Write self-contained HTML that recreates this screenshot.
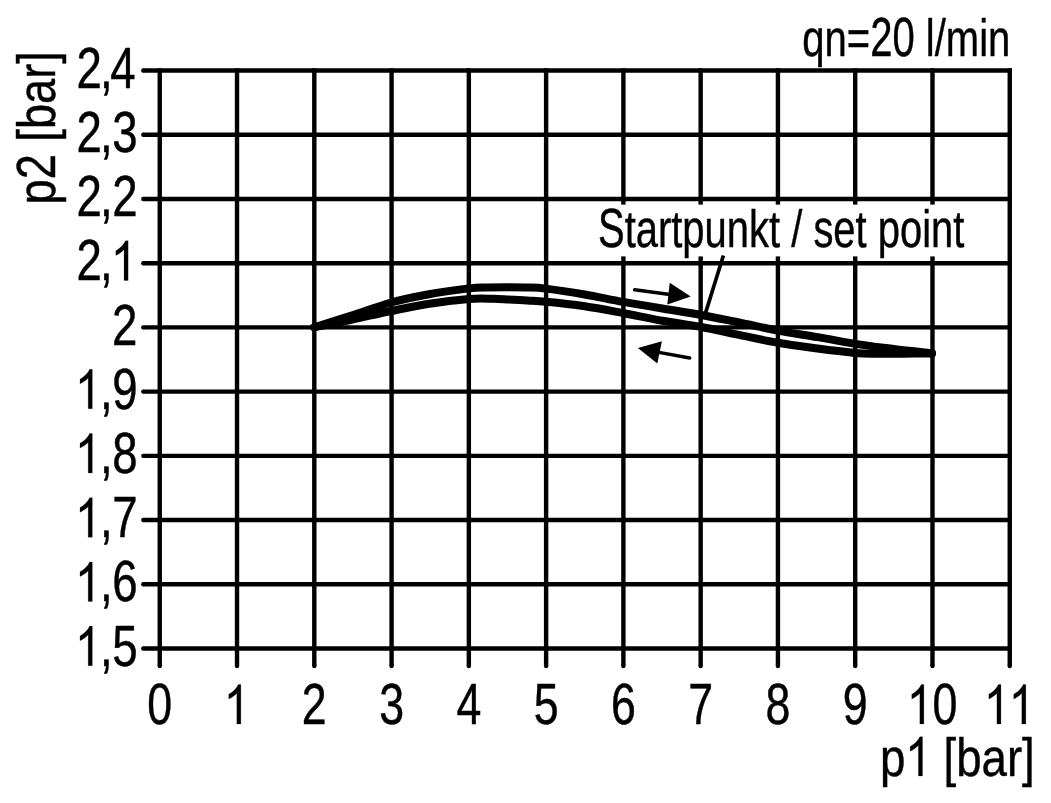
<!DOCTYPE html>
<html>
<head>
<meta charset="utf-8">
<title>p2 / p1 chart</title>
<style>
html,body{margin:0;padding:0;background:#fff;}
body{width:1051px;height:803px;overflow:hidden;}
svg{display:block;will-change:transform;}
text{font-family:"Liberation Sans",sans-serif;fill:#000;stroke:#000;stroke-width:0.45px;stroke-linejoin:round;}
path.one{fill:#000;stroke:#000;stroke-width:8;stroke-linejoin:round;}
</style>
</head>
<body>
<svg width="1051" height="803" viewBox="0 0 1051 803">
<rect x="0" y="0" width="1051" height="803" fill="#ffffff"/>

<g stroke="#000" stroke-width="4.4" fill="none" stroke-linecap="butt">
<line x1="159.75" y1="68.37" x2="159.75" y2="666.00"/>
<line x1="237.02" y1="68.37" x2="237.02" y2="666.00"/>
<line x1="314.30" y1="68.37" x2="314.30" y2="666.00"/>
<line x1="391.57" y1="68.37" x2="391.57" y2="666.00"/>
<line x1="468.84" y1="68.37" x2="468.84" y2="666.00"/>
<line x1="546.12" y1="68.37" x2="546.12" y2="666.00"/>
<line x1="623.39" y1="68.37" x2="623.39" y2="666.00"/>
<line x1="700.66" y1="68.37" x2="700.66" y2="666.00"/>
<line x1="777.93" y1="68.37" x2="777.93" y2="666.00"/>
<line x1="855.21" y1="68.37" x2="855.21" y2="666.00"/>
<line x1="932.48" y1="68.37" x2="932.48" y2="666.00"/>
<line x1="1009.75" y1="68.37" x2="1009.75" y2="666.00"/>
<line x1="143.30" y1="70.57" x2="1011.95" y2="70.57"/>
<line x1="143.30" y1="134.78" x2="1011.95" y2="134.78"/>
<line x1="143.30" y1="198.99" x2="1011.95" y2="198.99"/>
<line x1="143.30" y1="263.20" x2="1011.95" y2="263.20"/>
<line x1="143.30" y1="327.41" x2="1011.95" y2="327.41"/>
<line x1="143.30" y1="391.62" x2="1011.95" y2="391.62"/>
<line x1="143.30" y1="455.83" x2="1011.95" y2="455.83"/>
<line x1="143.30" y1="520.04" x2="1011.95" y2="520.04"/>
<line x1="143.30" y1="584.25" x2="1011.95" y2="584.25"/>
<line x1="143.30" y1="648.46" x2="1011.95" y2="648.46"/>
</g>
<g fill="#000">
<circle cx="159.75" cy="666.0" r="2.2"/>
<circle cx="237.02" cy="666.0" r="2.2"/>
<circle cx="314.30" cy="666.0" r="2.2"/>
<circle cx="391.57" cy="666.0" r="2.2"/>
<circle cx="468.84" cy="666.0" r="2.2"/>
<circle cx="546.12" cy="666.0" r="2.2"/>
<circle cx="623.39" cy="666.0" r="2.2"/>
<circle cx="700.66" cy="666.0" r="2.2"/>
<circle cx="777.93" cy="666.0" r="2.2"/>
<circle cx="855.21" cy="666.0" r="2.2"/>
<circle cx="932.48" cy="666.0" r="2.2"/>
<circle cx="1009.75" cy="666.0" r="2.2"/>
<circle cx="143.3" cy="70.57" r="2.2"/>
<circle cx="143.3" cy="134.78" r="2.2"/>
<circle cx="143.3" cy="198.99" r="2.2"/>
<circle cx="143.3" cy="263.20" r="2.2"/>
<circle cx="143.3" cy="327.41" r="2.2"/>
<circle cx="143.3" cy="391.62" r="2.2"/>
<circle cx="143.3" cy="455.83" r="2.2"/>
<circle cx="143.3" cy="520.04" r="2.2"/>
<circle cx="143.3" cy="584.25" r="2.2"/>
<circle cx="143.3" cy="648.46" r="2.2"/>
</g>
<rect x="597" y="204.6" width="371" height="51.8" fill="#fff"/>
<g stroke="#000" stroke-width="8.0" fill="none" stroke-linecap="round" stroke-linejoin="round">
<path d="M314.3,327.2 C320.5,325.3 338.6,319.7 351.4,315.6 C364.2,311.5 378.5,306.0 391.2,302.5 C403.9,299.0 414.6,296.9 427.6,294.5 C440.6,292.1 459.1,289.6 469.0,288.4 C478.9,287.2 480.7,287.6 487.0,287.4 C493.3,287.2 500.3,287.2 507.0,287.2 C513.7,287.2 520.5,287.3 527.0,287.5 C533.5,287.7 536.4,287.4 546.0,288.6 C555.6,289.8 571.9,292.3 584.7,294.5 C597.5,296.7 610.1,299.6 623.0,301.9 C635.9,304.2 649.4,306.4 662.3,308.5 C675.1,310.6 687.3,312.5 700.1,314.8 C712.9,317.1 726.0,319.9 739.0,322.5 C752.0,325.1 764.7,328.2 777.8,330.6 C790.9,333.0 804.7,334.9 817.6,337.1 C830.5,339.3 842.4,341.9 855.0,343.9 C867.6,345.9 880.7,347.4 893.5,349.0 C906.3,350.6 925.6,352.5 932.0,353.2"/>
<path d="M314.3,327.2 C320.5,326.0 338.6,322.5 351.4,319.8 C364.2,317.1 378.5,313.6 391.2,311.0 C403.9,308.4 414.6,306.0 427.6,304.0 C440.6,302.0 458.1,299.9 469.0,299.0 C479.9,298.1 486.6,298.7 493.0,298.8 C499.4,298.9 501.6,299.1 507.3,299.4 C513.0,299.7 520.8,300.1 527.3,300.5 C533.8,300.9 536.4,300.8 546.0,301.7 C555.6,302.6 571.9,304.3 584.7,306.2 C597.5,308.1 610.1,310.6 623.0,313.0 C635.9,315.4 649.4,318.5 662.3,320.8 C675.1,323.1 687.3,324.5 700.1,326.8 C712.9,329.1 726.0,332.2 739.0,334.9 C752.0,337.6 764.7,340.5 777.8,342.8 C790.9,345.1 804.7,346.8 817.6,348.5 C830.5,350.2 845.6,352.0 855.0,352.9 C864.4,353.8 866.0,353.7 874.0,353.8 C882.0,353.9 893.3,353.8 903.0,353.7 C912.7,353.6 927.2,353.4 932.0,353.4"/>
</g>
<line x1="723.4" y1="255.5" x2="705.2" y2="314" stroke="#000" stroke-width="3.7"/>
<g fill="#000" stroke="#000" stroke-width="3.5" stroke-linecap="round">
<line x1="634.6" y1="289.7" x2="670" y2="294.4"/>
<polygon points="690.7,296.4 669.75,282.7 667.3,304.5" stroke="none"/>
<line x1="689.7" y1="358.0" x2="659" y2="352.4"/>
<polygon points="637.9,347.9 661.9,341.3 657.3,363.5" stroke="none"/>
</g>
<g transform="translate(137.40,87.77) scale(0.8000,1)" font-size="57.0">
<text x="-76.24" y="0" letter-spacing="-1.875">2</text>
<text x="-46.66" y="0" letter-spacing="-1.875">,</text>
<text x="-33.95" y="0" letter-spacing="-1.875">4</text>
</g>
<g transform="translate(137.40,151.98) scale(0.8000,1)" font-size="57.0">
<text x="-76.24" y="0" letter-spacing="-1.875">2</text>
<text x="-46.66" y="0" letter-spacing="-1.875">,</text>
<text x="-31.33" y="0" letter-spacing="-1.875">3</text>
</g>
<g transform="translate(137.40,216.19) scale(0.8000,1)" font-size="57.0">
<text x="-76.24" y="0" letter-spacing="-1.875">2</text>
<text x="-46.66" y="0" letter-spacing="-1.875">,</text>
<text x="-31.33" y="0" letter-spacing="-1.875">2</text>
</g>
<g transform="translate(137.40,280.40) scale(0.8000,1)" font-size="57.0">
<text x="-76.24" y="0" letter-spacing="-1.875">2</text>
<text x="-46.66" y="0" letter-spacing="-1.875">,</text>
<path class="one" d="M763,0 H583 V-1147 Q518,-1085 412.5,-1023 Q307,-961 223,-930 V-1104 Q374,-1175 487,-1276 Q600,-1377 647,-1472 H763 Z" transform="translate(-33.32,0) scale(0.02849,0.02687)"/>
</g>
<g transform="translate(137.40,344.61) scale(0.8000,1)" font-size="57.0">
<text x="-31.70" y="0" letter-spacing="-1.875">2</text>
</g>
<g transform="translate(137.40,408.82) scale(0.8000,1)" font-size="57.0">
<path class="one" d="M763,0 H583 V-1147 Q518,-1085 412.5,-1023 Q307,-961 223,-930 V-1104 Q374,-1175 487,-1276 Q600,-1377 647,-1472 H763 Z" transform="translate(-78.11,0) scale(0.02849,0.02687)"/>
<text x="-46.66" y="0" letter-spacing="-1.875">,</text>
<text x="-31.33" y="0" letter-spacing="-1.875">9</text>
</g>
<g transform="translate(137.40,473.03) scale(0.8000,1)" font-size="57.0">
<path class="one" d="M763,0 H583 V-1147 Q518,-1085 412.5,-1023 Q307,-961 223,-930 V-1104 Q374,-1175 487,-1276 Q600,-1377 647,-1472 H763 Z" transform="translate(-78.11,0) scale(0.02849,0.02687)"/>
<text x="-46.66" y="0" letter-spacing="-1.875">,</text>
<text x="-31.33" y="0" letter-spacing="-1.875">8</text>
</g>
<g transform="translate(137.40,537.24) scale(0.8000,1)" font-size="57.0">
<path class="one" d="M763,0 H583 V-1147 Q518,-1085 412.5,-1023 Q307,-961 223,-930 V-1104 Q374,-1175 487,-1276 Q600,-1377 647,-1472 H763 Z" transform="translate(-78.11,0) scale(0.02849,0.02687)"/>
<text x="-46.66" y="0" letter-spacing="-1.875">,</text>
<text x="-31.33" y="0" letter-spacing="-1.875">7</text>
</g>
<g transform="translate(137.40,601.45) scale(0.8000,1)" font-size="57.0">
<path class="one" d="M763,0 H583 V-1147 Q518,-1085 412.5,-1023 Q307,-961 223,-930 V-1104 Q374,-1175 487,-1276 Q600,-1377 647,-1472 H763 Z" transform="translate(-78.11,0) scale(0.02849,0.02687)"/>
<text x="-46.66" y="0" letter-spacing="-1.875">,</text>
<text x="-31.33" y="0" letter-spacing="-1.875">6</text>
</g>
<g transform="translate(137.40,665.66) scale(0.8000,1)" font-size="57.0">
<path class="one" d="M763,0 H583 V-1147 Q518,-1085 412.5,-1023 Q307,-961 223,-930 V-1104 Q374,-1175 487,-1276 Q600,-1377 647,-1472 H763 Z" transform="translate(-78.11,0) scale(0.02849,0.02687)"/>
<text x="-46.66" y="0" letter-spacing="-1.875">,</text>
<text x="-31.33" y="0" letter-spacing="-1.875">5</text>
</g>
<g transform="translate(159.75,724.00) scale(0.7850,1)" font-size="57.0">
<text x="-15.85" y="0">0</text>
</g>
<g transform="translate(237.02,724.00) scale(0.7850,1)" font-size="57.0">
<path class="one" d="M763,0 H583 V-1147 Q518,-1085 412.5,-1023 Q307,-961 223,-930 V-1104 Q374,-1175 487,-1276 Q600,-1377 647,-1472 H763 Z" transform="translate(-16.86,0) scale(0.02849,0.02687)"/>
</g>
<g transform="translate(314.30,724.00) scale(0.7850,1)" font-size="57.0">
<text x="-15.85" y="0">2</text>
</g>
<g transform="translate(391.57,724.00) scale(0.7850,1)" font-size="57.0">
<text x="-15.85" y="0">3</text>
</g>
<g transform="translate(468.84,724.00) scale(0.7850,1)" font-size="57.0">
<text x="-15.85" y="0">4</text>
</g>
<g transform="translate(546.12,724.00) scale(0.7850,1)" font-size="57.0">
<text x="-15.85" y="0">5</text>
</g>
<g transform="translate(623.39,724.00) scale(0.7850,1)" font-size="57.0">
<text x="-15.85" y="0">6</text>
</g>
<g transform="translate(700.66,724.00) scale(0.7850,1)" font-size="57.0">
<text x="-15.85" y="0">7</text>
</g>
<g transform="translate(777.93,724.00) scale(0.7850,1)" font-size="57.0">
<text x="-15.85" y="0">8</text>
</g>
<g transform="translate(855.21,724.00) scale(0.7850,1)" font-size="57.0">
<text x="-15.85" y="0">9</text>
</g>
<g transform="translate(932.48,724.00) scale(0.7850,1)" font-size="57.0">
<path class="one" d="M763,0 H583 V-1147 Q518,-1085 412.5,-1023 Q307,-961 223,-930 V-1104 Q374,-1175 487,-1276 Q600,-1377 647,-1472 H763 Z" transform="translate(-32.71,0) scale(0.02849,0.02687)"/>
<text x="0.00" y="0">0</text>
</g>
<g transform="translate(1009.75,724.00) scale(0.7850,1)" font-size="57.0">
<path class="one" d="M763,0 H583 V-1147 Q518,-1085 412.5,-1023 Q307,-961 223,-930 V-1104 Q374,-1175 487,-1276 Q600,-1377 647,-1472 H763 Z" transform="translate(-32.97,0) scale(0.02849,0.02687)"/>
<path class="one" d="M763,0 H583 V-1147 Q518,-1085 412.5,-1023 Q307,-961 223,-930 V-1104 Q374,-1175 487,-1276 Q600,-1377 647,-1472 H763 Z" transform="translate(-1.26,0) scale(0.02849,0.02687)"/>
</g>
<g transform="translate(802.30,55.70) scale(0.7275,1)" font-size="55">
<text transform="translate(0.00,0) scale(1,0.9560)">qn=</text>
<text x="93.30" y="0">20</text>
<text transform="translate(169.75,0) scale(1,0.9560)">l/min</text>
</g>
<g transform="translate(598.00,246.90) scale(0.7185,1)" font-size="55.6">
<text x="0.00" y="0">S</text>
<text transform="translate(37.08,0) scale(1,0.9350)">tartpunkt</text>
<text transform="translate(268.88,0) scale(1,0.9350)">/</text>
<text transform="translate(299.77,0) scale(1,0.9350)">set</text>
<text transform="translate(389.39,0) scale(1,0.9350)">point</text>
</g>
<g transform="translate(880.00,776.00) scale(0.8300,1)" font-size="55">
<text transform="translate(0.00,0) scale(1,0.9700)">p</text>
<path class="one" d="M763,0 H583 V-1147 Q518,-1085 412.5,-1023 Q307,-961 223,-930 V-1104 Q374,-1175 487,-1276 Q600,-1377 647,-1472 H763 Z" transform="translate(30.23,0) scale(0.02749,0.02671)"/>
<text transform="translate(76.46,0) scale(1,0.9700)">[bar]</text>
</g>
<g transform="translate(54.90,204.50) rotate(-90) scale(0.8220,1)" font-size="55">
<text transform="translate(0.00,0) scale(1,0.9700)">p</text>
<text x="30.59" y="0">2</text>
<text transform="translate(76.46,0) scale(1,0.9700)">[bar]</text>
</g>
</svg>
</body>
</html>
